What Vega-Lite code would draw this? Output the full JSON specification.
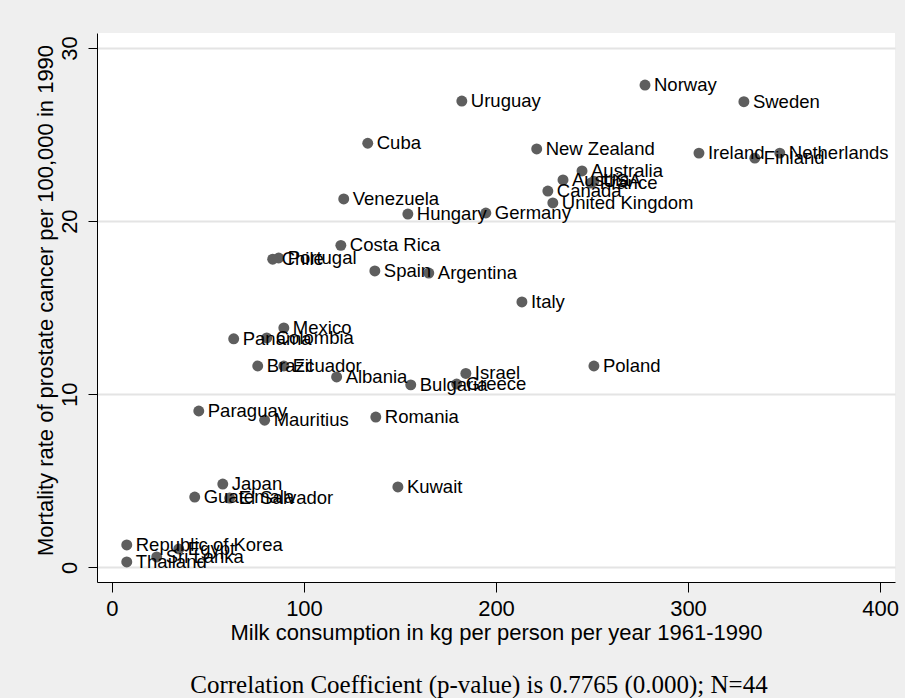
{
  "$schema": "https://vega.github.io/schema/vega-lite/v6.json",
  "width": 798,
  "height": 549,
  "autosize": {"type": "none"},
  "padding": {"left": 97, "top": 33, "right": 10, "bottom": 116},
  "background": "#efefef",
  "config": {"view": {"stroke": null, "fill": "white"}, "font": "Liberation Sans"},
  "title": {
    "text": "Correlation Coefficient (p-value) is 0.7765 (0.000); N=44",
    "orient": "bottom",
    "font": "Liberation Serif",
    "fontSize": 25,
    "fontWeight": "normal",
    "color": "black",
    "anchor": "middle",
    "offset": 30,
    "dx": -17
  },
  "data": {
    "values": [
      {"country": "Norway", "milk": 277.6, "mort": 27.86},
      {"country": "Sweden", "milk": 329.1, "mort": 26.9},
      {"country": "Uruguay", "milk": 182.2, "mort": 26.94},
      {"country": "Cuba", "milk": 133.2, "mort": 24.5},
      {"country": "New Zealand", "milk": 221.2, "mort": 24.17},
      {"country": "Ireland", "milk": 305.7, "mort": 23.93},
      {"country": "Netherlands", "milk": 347.8, "mort": 23.93},
      {"country": "Finland", "milk": 334.8, "mort": 23.64},
      {"country": "Australia", "milk": 244.8, "mort": 22.9},
      {"country": "Austria", "milk": 234.9, "mort": 22.38},
      {"country": "France", "milk": 249.4, "mort": 22.2},
      {"country": "USA", "milk": 251.0, "mort": 22.3},
      {"country": "Canada", "milk": 227.0, "mort": 21.74},
      {"country": "United Kingdom", "milk": 229.6, "mort": 21.05},
      {"country": "Venezuela", "milk": 120.7, "mort": 21.28},
      {"country": "Hungary", "milk": 154.1, "mort": 20.41},
      {"country": "Germany", "milk": 194.7, "mort": 20.47},
      {"country": "Costa Rica", "milk": 119.2, "mort": 18.6},
      {"country": "Portugal", "milk": 86.8, "mort": 17.87},
      {"country": "Chile", "milk": 83.7, "mort": 17.8},
      {"country": "Spain", "milk": 136.9, "mort": 17.12},
      {"country": "Argentina", "milk": 165.0, "mort": 17.0},
      {"country": "Italy", "milk": 213.5, "mort": 15.33},
      {"country": "Mexico", "milk": 89.5, "mort": 13.83},
      {"country": "Colombia", "milk": 80.6, "mort": 13.25},
      {"country": "Panama", "milk": 63.4, "mort": 13.2},
      {"country": "Brazil", "milk": 75.9, "mort": 11.63},
      {"country": "Ecuador", "milk": 89.5, "mort": 11.63},
      {"country": "Albania", "milk": 117.0, "mort": 11.0},
      {"country": "Israel", "milk": 184.3, "mort": 11.2},
      {"country": "Bulgaria", "milk": 155.6, "mort": 10.54},
      {"country": "Greece", "milk": 179.5, "mort": 10.59},
      {"country": "Poland", "milk": 251.0, "mort": 11.63},
      {"country": "Paraguay", "milk": 45.2, "mort": 9.03},
      {"country": "Mauritius", "milk": 79.5, "mort": 8.5},
      {"country": "Romania", "milk": 137.4, "mort": 8.68},
      {"country": "Japan", "milk": 57.7, "mort": 4.81},
      {"country": "Guatemala", "milk": 43.1, "mort": 4.06},
      {"country": "El Salvador", "milk": 61.3, "mort": 4.0},
      {"country": "Kuwait", "milk": 148.9, "mort": 4.64},
      {"country": "Republic of Korea", "milk": 7.7, "mort": 1.29},
      {"country": "Egypt", "milk": 34.8, "mort": 1.06},
      {"country": "Sri Lanka", "milk": 23.3, "mort": 0.6},
      {"country": "Thailand", "milk": 7.7, "mort": 0.31}
    ]
  },
  "encoding": {
    "x": {
      "field": "milk",
      "type": "quantitative",
      "scale": {"domain": [-7.8, 407.8], "nice": false, "zero": false},
      "axis": {
        "values": [0, 100, 200, 300, 400],
        "title": "Milk consumption in kg per person per year 1961-1990",
        "grid": false,
        "domainColor": "black",
        "tickColor": "black",
        "tickSize": 10,
        "labelFontSize": 22,
        "labelColor": "black",
        "labelPadding": 6,
        "labelFlush": false,
        "titleFontSize": 22,
        "titleFontWeight": "normal",
        "titleColor": "black",
        "titleBaseline": "middle",
        "titleY": 50
      }
    },
    "y": {
      "field": "mort",
      "type": "quantitative",
      "scale": {"domain": [-0.85, 30.87], "nice": false, "zero": false},
      "axis": {
        "values": [0, 10, 20, 30],
        "title": "Mortality rate of prostate cancer per 100,000 in 1990",
        "grid": true,
        "gridColor": "#e4e4e4",
        "gridWidth": 2,
        "domainColor": "black",
        "tickColor": "black",
        "tickSize": 9,
        "labelAngle": -90,
        "labelAlign": "center",
        "labelBaseline": "bottom",
        "labelFontSize": 22,
        "labelColor": "black",
        "labelPadding": 7,
        "labelFlush": false,
        "titleFontSize": 22,
        "titleFontWeight": "normal",
        "titleColor": "black",
        "titleAngle": -90,
        "titleAlign": "center",
        "titleBaseline": "middle",
        "titleX": -52,
        "titleY": 267
      }
    }
  },
  "layer": [
    {"mark": {"type": "circle", "size": 120, "color": "#5e5e5e", "opacity": 1}},
    {
      "mark": {"type": "text", "align": "left", "baseline": "middle", "dx": 9, "fontSize": 18.5, "color": "black"},
      "encoding": {"text": {"field": "country"}}
    }
  ]
}
